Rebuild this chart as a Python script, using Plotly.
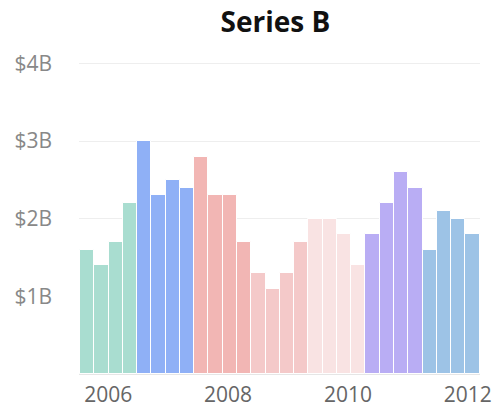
import pandas as pd
import plotly.graph_objects as go

# Period start for each bar (roughly quarterly readings)
start_date = "2005-08-25"
n_periods = 28
dates = pd.date_range(start_date, periods=n_periods, freq="87D")

# Series B values, in billions of dollars
values = [
    1.6, 1.4, 1.7, 2.2,
    3.0, 2.3, 2.5, 2.4,
    2.8, 2.3, 2.3, 1.7,
    1.3, 1.1, 1.3, 1.7,
    2.0, 2.0, 1.8, 1.4,
    1.8, 2.2, 2.6, 2.4,
    1.6, 2.1, 2.0, 1.8,
]

# One colour per block of four bars
group_colors = ["#A9DDD0", "#8FB0F6", "#F2B6B4", "#F4C9C9",
                "#F9E3E3", "#B9ADF4", "#9DC3E6"]
bar_colors = [group_colors[i // 4] for i in range(len(values))]

tick_years = ["2006", "2008", "2010", "2012"]
y_ticks = [1, 2, 3, 4]
y_tick_text = ["$1B", "$2B", "$3B", "$4B"]

font_family = "'Open Sans', 'Noto Sans', sans-serif"

fig = go.Figure(
    go.Bar(
        x=dates,
        y=values,
        marker=dict(color=bar_colors, line=dict(color="white", width=1)),
        hoverinfo="x+y",
    )
)

x_start = dates[0] - pd.Timedelta(days=50)
x_end = dates[-1] + pd.Timedelta(days=46)

fig.update_layout(
    width=497,
    height=407,
    margin=dict(l=79, r=17, t=61, b=33),
    paper_bgcolor="white",
    plot_bgcolor="white",
    bargap=0,
    showlegend=False,
    title=dict(
        text="<b>Series B</b>",
        x=0.49,
        xref="paper",
        xanchor="center",
        y=0.945,
        yanchor="middle",
        font=dict(family=font_family, size=28, color="#111111"),
    ),
    font=dict(family=font_family),
)

fig.update_xaxes(
    type="date",
    range=[x_start, x_end],
    tickvals=[pd.Timestamp(y + "-01-01") for y in tick_years],
    ticktext=tick_years,
    showgrid=False,
    showline=True,
    linecolor="#e6e6e6",
    linewidth=1,
    ticks="",
    tickfont=dict(size=21, color="#666666"),
    ticklabelstandoff=2,
    automargin=False,
)

fig.update_yaxes(
    range=[0, 4.03],
    tickvals=y_ticks,
    ticktext=y_tick_text,
    showgrid=True,
    gridcolor="#eeeeee",
    gridwidth=1,
    zeroline=False,
    showline=False,
    ticks="",
    tickfont=dict(size=21, color="#888888"),
    ticklabelstandoff=26,
    automargin=False,
)

fig.write_html("out.html")
